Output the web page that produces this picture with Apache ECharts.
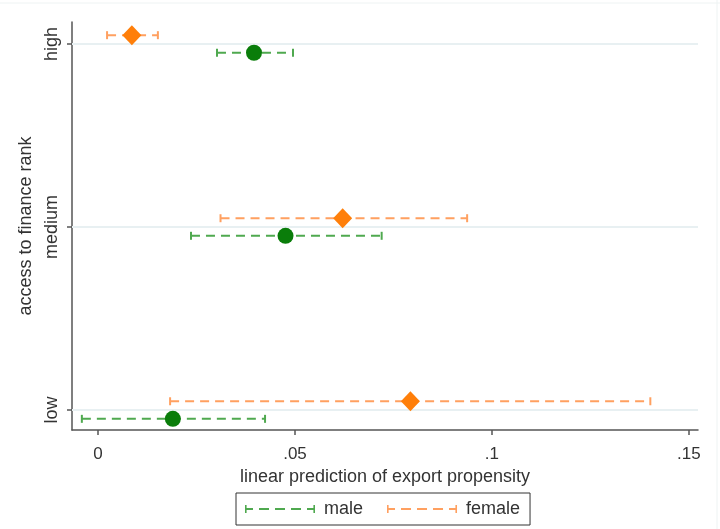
<!DOCTYPE html>
<html>
<head>
<meta charset="utf-8">
<script src="https://cdn.jsdelivr.net/npm/echarts@6/dist/echarts.min.js"></script>
<style>
html,body{margin:0;padding:0;background:#fff;}
#chart{width:720px;height:529px;}
</style>
</head>
<body>
<div id="chart"></div>
<script>
// ---- data ----
var categories = ['low', 'medium', 'high'];
var categoryPos = [1, 2, 3];
var xTicks = [0, 0.05, 0.1, 0.15];

var maleEst   = [0.0190, 0.0476, 0.0396];
var maleLo    = [-0.0041, 0.0236, 0.0302];
var maleHi    = [0.0424, 0.0720, 0.0495];

var femaleEst = [0.0793, 0.0621, 0.0086];
var femaleLo  = [0.0183, 0.0311, 0.0023];
var femaleHi  = [0.1402, 0.0937, 0.0152];

var maleOffset = -0.048;
var femaleOffset = 0.048;

// ---- build ----
function barData(lo, hi, off) {
  return categoryPos.map(function (p, i) { return [lo[i], hi[i], p + off]; });
}
function pointData(est, off) {
  return categoryPos.map(function (p, i) { return [est[i], p + off]; });
}
function errRender(color) {
  return function (params, api) {
    var y = api.value(2);
    var a = api.coord([api.value(0), y]);
    var b = api.coord([api.value(1), y]);
    var cap = 4;
    var st = { stroke: color, lineWidth: 2 };
    return {
      type: 'group',
      children: [
        { type: 'line', shape: { x1: a[0], y1: a[1], x2: b[0], y2: b[1] },
          style: { stroke: color, lineWidth: 2, lineDash: [9, 6] } },
        { type: 'line', shape: { x1: a[0], y1: a[1] - cap, x2: a[0], y2: a[1] + cap }, style: st },
        { type: 'line', shape: { x1: b[0], y1: b[1] - cap, x2: b[0], y2: b[1] + cap }, style: st }
      ]
    };
  };
}

var maleBarColor = '#4fa94f';
var femaleBarColor = '#ffa060';
var legendIcon = 'path://M0,0h1.6v8h-1.6z M0,3h8v2h-8z M14,3h10v2h-10z M30,3h10v2h-10z M46,3h10v2h-10z M62,3h8v2h-8z M68.4,0h1.6v8h-1.6z';

var chart = echarts.init(document.getElementById('chart'), null, { renderer: 'canvas' });
var textColor = '#333';
var fontFam = '"Liberation Sans", Arial, sans-serif';

chart.setOption({
  animation: false,
  backgroundColor: '#fff',
  textStyle: { fontFamily: fontFam },
  grid: { left: 72, right: 22, top: 22, bottom: 99, containLabel: false },
  xAxis: {
    type: 'value',
    min: -0.0066,
    max: 0.1523,
    name: 'linear prediction of export propensity',
    nameLocation: 'middle',
    nameGap: 31,
    nameTextStyle: { color: textColor, fontSize: 18, fontFamily: fontFam },
    axisLine: { show: true, onZero: false, lineStyle: { color: '#555', width: 1.5 } },
    axisTick: { show: true, length: 5, customValues: xTicks, lineStyle: { color: '#555', width: 1.5 } },
    axisLabel: {
      customValues: xTicks, margin: 16, fontSize: 17, color: textColor, fontFamily: fontFam,
      formatter: function (v) { return v === 0 ? '0' : String(+v.toFixed(2)).replace(/^0\./, '.'); }
    },
    splitLine: { show: false }
  },
  yAxis: {
    type: 'value',
    min: 0.891,
    max: 3.12,
    name: 'access to finance rank',
    nameLocation: 'middle',
    nameRotate: 90,
    nameGap: 29,
    nameTextStyle: { color: textColor, fontSize: 18, fontFamily: fontFam },
    axisLine: { show: true, onZero: false, lineStyle: { color: '#555', width: 1.5 } },
    axisTick: { show: true, length: 5, customValues: categoryPos, lineStyle: { color: '#555', width: 1.5 } },
    axisLabel: {
      customValues: categoryPos, rotate: 90, margin: 11, fontSize: 18, color: textColor, fontFamily: fontFam,
      formatter: function (v) { var i = categoryPos.indexOf(Math.round(v)); return i >= 0 ? categories[i] : ''; }
    },
    splitLine: { show: false }
  },
  legend: {
    left: 236,
    top: 493,
    padding: [7, 10, 7, 9],
    itemWidth: 70,
    itemHeight: 8,
    itemGap: 24,
    borderColor: '#333',
    borderWidth: 1,
    textStyle: { color: textColor, fontSize: 18, fontFamily: fontFam, padding: [0, 0, 0, 4] },
    data: [
      { name: 'male', icon: legendIcon },
      { name: 'female', icon: legendIcon }
    ]
  },
  series: [
    {
      name: 'male', type: 'custom', itemStyle: { color: maleBarColor },
      renderItem: errRender(maleBarColor),
      encode: { x: [0, 1], y: 2 },
      data: barData(maleLo, maleHi, maleOffset),
      z: 3,
      markLine: {
        silent: true, symbol: 'none', label: { show: false },
        lineStyle: { color: '#e8f0f2', type: 'solid', width: 2 },
        data: categoryPos.map(function (p) { return { yAxis: p }; }),
        z: 1
      }
    },
    {
      name: 'female', type: 'custom', itemStyle: { color: femaleBarColor },
      renderItem: errRender(femaleBarColor),
      encode: { x: [0, 1], y: 2 },
      data: barData(femaleLo, femaleHi, femaleOffset),
      z: 3
    },
    {
      name: 'male', type: 'scatter', symbol: 'circle', symbolSize: 16,
      itemStyle: { color: '#0a7d0a', opacity: 1 },
      data: pointData(maleEst, maleOffset), z: 5
    },
    {
      name: 'female', type: 'scatter', symbol: 'diamond', symbolSize: [19, 20],
      itemStyle: { color: '#ff7f0a', opacity: 1 },
      data: pointData(femaleEst, femaleOffset), z: 5
    }
  ],
  graphic: [
    { type: 'line', shape: { x1: 0, y1: 3, x2: 720, y2: 3 }, style: { stroke: '#eef3f3', lineWidth: 1 }, silent: true },
    { type: 'line', shape: { x1: 717, y1: 0, x2: 717, y2: 529 }, style: { stroke: '#eef3f3', lineWidth: 1 }, silent: true }
  ]
});
</script>
</body>
</html>
